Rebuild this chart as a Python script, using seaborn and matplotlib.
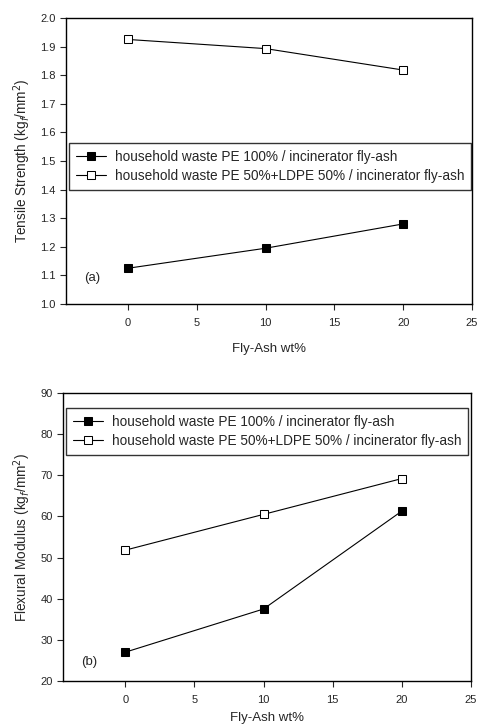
import matplotlib
matplotlib.use("Agg")
import matplotlib.pyplot as plt
import seaborn as sns
import pandas as pd

fly_ash = [0, 10, 20]
ts_pe100 = [1.125, 1.195, 1.28]
ts_pe50 = [1.925, 1.893, 1.818]
fm_pe100 = [27.0, 37.5, 61.3]
fm_pe50 = [51.8, 60.5, 69.2]
lab1 = "household waste PE 100% / incinerator fly-ash"
lab2 = "household waste PE 50%+LDPE 50% / incinerator fly-ash"
xticks = [0, 5, 10, 15, 20, 25]

sns.set_theme(style="ticks")
plt.rcParams['font.family'] = ['Liberation Sans', 'DejaVu Sans']

fig = plt.figure(figsize=(4.79, 7.27), dpi=100)
W, H = 479, 727
ax1 = fig.add_axes([66 / W, 1 - 304 / H, (472 - 66) / W, (304 - 18) / H])
ax2 = fig.add_axes([63 / W, 1 - 681 / H, (471 - 63) / W, (681 - 393) / H])

def panel(ax, y1, y2, ylim, yticks, ylabel, tag, tagy, anchor, xpad):
    df = pd.DataFrame({"x": fly_ash * 2, "y": y1 + y2,
                       "s": [lab1] * 3 + [lab2] * 3})
    sns.lineplot(data=df[df.s == lab1], x="x", y="y", ax=ax, color="black",
                 lw=0.8, marker="s", markersize=5.5, markerfacecolor="black",
                 markeredgecolor="black", label=lab1)
    sns.lineplot(data=df[df.s == lab2], x="x", y="y", ax=ax, color="black",
                 lw=0.8, marker="s", markersize=5.5, markerfacecolor="white",
                 markeredgecolor="black", label=lab2)
    ax.set_xlim(-4.5, 25)
    ax.set_ylim(*ylim)
    ax.set_xticks(xticks)
    ax.set_yticks(yticks)
    ax.tick_params(labelsize=8, length=4, width=0.8, direction="out")
    ax.tick_params(axis="x", pad=6)
    for sp in ax.spines.values():
        sp.set_linewidth(1.0)
        sp.set_color("black")
    ax.set_xlabel("Fly-Ash wt%", fontsize=9.5, labelpad=xpad)
    ax.set_ylabel(ylabel, fontsize=9.8, labelpad=5)
    ax.text(-3.2, tagy, tag, fontsize=9.5, va="center")
    leg = ax.legend(loc="upper left", bbox_to_anchor=anchor, fontsize=9.8,
                    frameon=True, fancybox=False, edgecolor="black",
                    borderpad=0.5, handlelength=2.2, labelspacing=0.4,
                    handletextpad=0.7, borderaxespad=0)
    leg.get_frame().set_linewidth(1.0)

panel(ax1, ts_pe100, ts_pe50, (1.0, 2.0),
      [1.0, 1.1, 1.2, 1.3, 1.4, 1.5, 1.6, 1.7, 1.8, 1.9, 2.0],
      "Tensile Strength (kg$_f$/mm$^2$)", "(a)", 1.09, (0.007, 0.563), 11)
ax1.yaxis.set_major_formatter(matplotlib.ticker.FormatStrFormatter("%.1f"))
panel(ax2, fm_pe100, fm_pe50, (20, 90),
      [20, 30, 40, 50, 60, 70, 80, 90],
      "Flexural Modulus (kg$_f$/mm$^2$)", "(b)", 24.5, (0.007, 0.948), 5)

fig.savefig("out.png", dpi=100)
